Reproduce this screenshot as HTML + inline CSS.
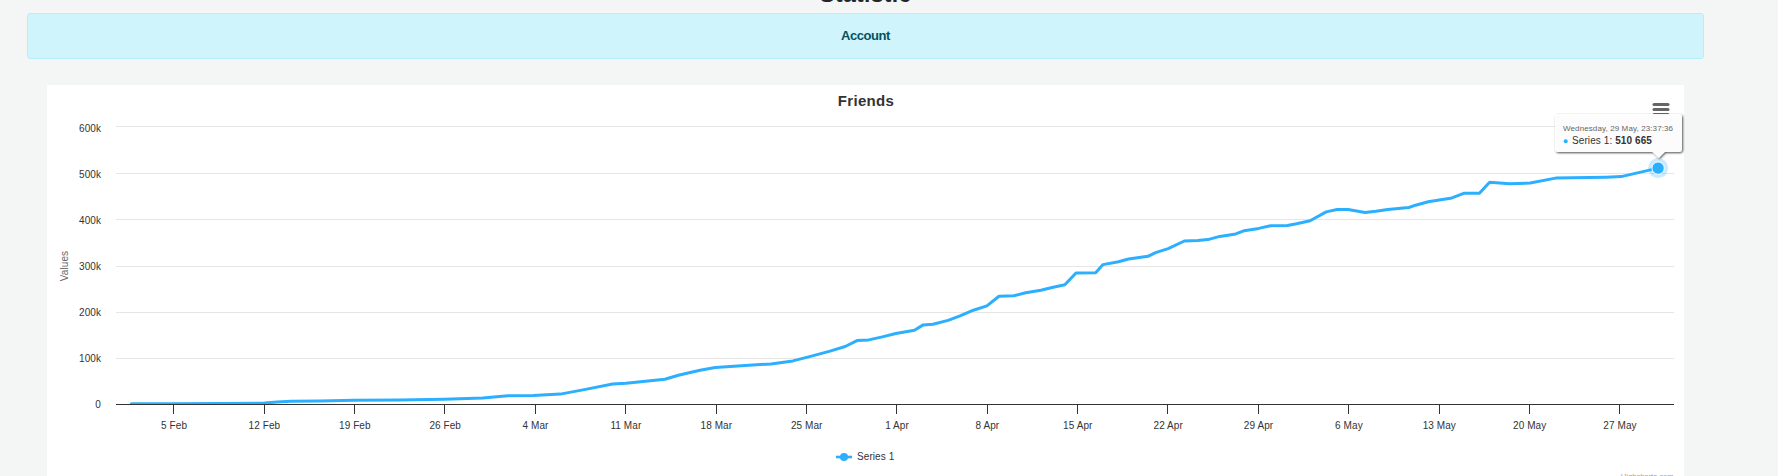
<!DOCTYPE html>
<html><head><meta charset="utf-8"><title>Statistic</title>
<style>
html,body{margin:0;padding:0;}
body{width:1778px;height:476px;overflow:hidden;background:#f4f6f6;font-family:"Liberation Sans",sans-serif;position:relative;}
h1{position:absolute;left:0;width:1731px;top:-20px;margin:0;text-align:center;font-size:20px;font-weight:bold;color:#212529;line-height:23px;}
.alert{position:absolute;left:27px;top:13px;width:1675px;height:44px;box-sizing:content-box;border:1px solid #b6effb;background:#cff4fc;border-radius:3px;color:#055160;text-align:center;font-weight:bold;font-size:13px;line-height:44px;letter-spacing:-0.45px;}
.panel{position:absolute;left:47px;top:85px;width:1637px;height:400px;background:#fff;}
svg{position:absolute;left:0;top:0;}
.ax{font-size:10px;fill:#333;letter-spacing:0.08px;}
.title{font-size:15px;font-weight:bold;fill:#333;letter-spacing:0.3px;}
</style></head><body>
<div class="alert">Account</div>
<div class="panel"></div>
<svg width="1778" height="476" viewBox="0 0 1778 476" font-family="Liberation Sans, sans-serif">
<defs><clipPath id="cp"><rect x="116" y="100" width="1558" height="304"/></clipPath><filter id="sh" x="-10%" y="-20%" width="120%" height="150%"><feDropShadow dx="1" dy="1" stdDeviation="1.2" flood-color="#000" flood-opacity="0.72"/></filter></defs>
<path d="M116 126.5 H1674" stroke="#e6e6e6" stroke-width="1" fill="none"/>
<path d="M116 173.5 H1674" stroke="#e6e6e6" stroke-width="1" fill="none"/>
<path d="M116 219.5 H1674" stroke="#e6e6e6" stroke-width="1" fill="none"/>
<path d="M116 266.5 H1674" stroke="#e6e6e6" stroke-width="1" fill="none"/>
<path d="M116 312.5 H1674" stroke="#e6e6e6" stroke-width="1" fill="none"/>
<path d="M116 358.5 H1674" stroke="#e6e6e6" stroke-width="1" fill="none"/>
<path d="M116 404.5 H1674" stroke="#333" stroke-width="1" fill="none"/>
<path d="M173.5 404.5 V414" stroke="#333" stroke-width="1" fill="none"/>
<path d="M264.5 404.5 V414" stroke="#333" stroke-width="1" fill="none"/>
<path d="M354.5 404.5 V414" stroke="#333" stroke-width="1" fill="none"/>
<path d="M444.5 404.5 V414" stroke="#333" stroke-width="1" fill="none"/>
<path d="M535.5 404.5 V414" stroke="#333" stroke-width="1" fill="none"/>
<path d="M625.5 404.5 V414" stroke="#333" stroke-width="1" fill="none"/>
<path d="M716.5 404.5 V414" stroke="#333" stroke-width="1" fill="none"/>
<path d="M806.5 404.5 V414" stroke="#333" stroke-width="1" fill="none"/>
<path d="M896.5 404.5 V414" stroke="#333" stroke-width="1" fill="none"/>
<path d="M987.5 404.5 V414" stroke="#333" stroke-width="1" fill="none"/>
<path d="M1077.5 404.5 V414" stroke="#333" stroke-width="1" fill="none"/>
<path d="M1167.5 404.5 V414" stroke="#333" stroke-width="1" fill="none"/>
<path d="M1258.5 404.5 V414" stroke="#333" stroke-width="1" fill="none"/>
<path d="M1348.5 404.5 V414" stroke="#333" stroke-width="1" fill="none"/>
<path d="M1439.5 404.5 V414" stroke="#333" stroke-width="1" fill="none"/>
<path d="M1529.5 404.5 V414" stroke="#333" stroke-width="1" fill="none"/>
<path d="M1619.5 404.5 V414" stroke="#333" stroke-width="1" fill="none"/>
<text x="101" y="132" text-anchor="end" class="ax">600k</text>
<text x="101" y="178" text-anchor="end" class="ax">500k</text>
<text x="101" y="224" text-anchor="end" class="ax">400k</text>
<text x="101" y="270" text-anchor="end" class="ax">300k</text>
<text x="101" y="316" text-anchor="end" class="ax">200k</text>
<text x="101" y="362" text-anchor="end" class="ax">100k</text>
<text x="101" y="408" text-anchor="end" class="ax">0</text>
<text x="174.1" y="429.3" text-anchor="middle" class="ax">5 Feb</text>
<text x="264.4" y="429.3" text-anchor="middle" class="ax">12 Feb</text>
<text x="354.8" y="429.3" text-anchor="middle" class="ax">19 Feb</text>
<text x="445.2" y="429.3" text-anchor="middle" class="ax">26 Feb</text>
<text x="535.5" y="429.3" text-anchor="middle" class="ax">4 Mar</text>
<text x="625.9" y="429.3" text-anchor="middle" class="ax">11 Mar</text>
<text x="716.3" y="429.3" text-anchor="middle" class="ax">18 Mar</text>
<text x="806.7" y="429.3" text-anchor="middle" class="ax">25 Mar</text>
<text x="897.0" y="429.3" text-anchor="middle" class="ax">1 Apr</text>
<text x="987.4" y="429.3" text-anchor="middle" class="ax">8 Apr</text>
<text x="1077.8" y="429.3" text-anchor="middle" class="ax">15 Apr</text>
<text x="1168.2" y="429.3" text-anchor="middle" class="ax">22 Apr</text>
<text x="1258.5" y="429.3" text-anchor="middle" class="ax">29 Apr</text>
<text x="1348.9" y="429.3" text-anchor="middle" class="ax">6 May</text>
<text x="1439.3" y="429.3" text-anchor="middle" class="ax">13 May</text>
<text x="1529.7" y="429.3" text-anchor="middle" class="ax">20 May</text>
<text x="1620.0" y="429.3" text-anchor="middle" class="ax">27 May</text>
<text transform="translate(68.4 266) rotate(-90)" text-anchor="middle" class="ax" style="fill:#666">Values</text>
<path d="M131.3 403.8 L173 403.7 L220 403.5 L264.5 403.1 L277 401.9 L291 401.3 L320 400.9 L354 400.3 L400 400.1 L444 399.2 L482.7 398.1 L508 395.8 L533.3 395.5 L560.3 394.1 L585.6 389.4 L612.6 384 L626 383.3 L664.9 379.3 L678.4 375.2 L700 370.2 L715.3 367.6 L771 363.9 L792.9 360.9 L811.5 356.1 L830 351.1 L845.2 346.5 L857 340.6 L868.8 339.9 L882.3 336.9 L895.8 333.5 L914.4 330.2 L922.8 325.1 L933 324.2 L948.1 320.4 L960 315.8 L973.4 310.2 L986.9 305.9 L999 296.3 L1013.9 295.8 L1025.7 292.8 L1040.9 290.2 L1051 287.7 L1064.8 284.8 L1076 273 L1095.7 272.7 L1103 264.6 L1118.5 261.7 L1128.6 259 L1148 256.3 L1155.6 252.6 L1168.2 248.6 L1184.3 241 L1197.8 240.6 L1207.9 239.6 L1219.7 236.4 L1235.8 233.9 L1244.3 230.7 L1258.7 228.4 L1270.5 225.7 L1287.4 225.4 L1296.6 223.7 L1310.1 220.7 L1326.2 211.9 L1337.1 209.5 L1348.1 209.5 L1365 212.6 L1375.9 211.2 L1387.8 209.4 L1408.8 207.5 L1415.6 205.2 L1428.2 201.8 L1451.9 197.9 L1463.7 193.3 L1479.4 193.3 L1489.6 182.2 L1509.4 183.8 L1530.2 183 L1555.6 178.1 L1606.1 177.2 L1621.2 176.6 L1658.1 168.1" stroke="#2caffe" stroke-width="3" fill="none" stroke-linejoin="round" stroke-linecap="round" clip-path="url(#cp)"/>
<circle cx="1658.1" cy="168.1" r="10" fill="#2caffe" fill-opacity="0.25"/>
<circle cx="1658.1" cy="168.1" r="6.2" fill="#2caffe" stroke="#fff" stroke-width="1"/>
<path d="M836 457 H852" stroke="#2caffe" stroke-width="2.6"/>
<circle cx="844" cy="457" r="4" fill="#2caffe"/>
<text x="857" y="460.3" class="ax">Series 1</text>
<text x="866" y="105.7" text-anchor="middle" class="title">Friends</text>
<path d="M1654 104.5 H1668" stroke="#666" stroke-width="3" stroke-linecap="round"/>
<path d="M1654 109.5 H1668" stroke="#666" stroke-width="3" stroke-linecap="round"/>
<path d="M1654 114.5 H1668" stroke="#666" stroke-width="3" stroke-linecap="round"/>
<text x="865.5" y="1.8" text-anchor="middle" style="font-size:23px;font-weight:bold;fill:#212529;letter-spacing:0.3px">Statistic</text>
<text x="1673.5" y="478.9" text-anchor="end" style="font-size:7.6px;fill:#999">Highcharts.com</text>
<g filter="url(#sh)"><path d="M1558 114 H1679 a3 3 0 0 1 3 3 V149 a3 3 0 0 1 -3 3 H1664.8 L1658.7 158 L1652.6 152 H1558 a3 3 0 0 1 -3 -3 V117 a3 3 0 0 1 3 -3 Z" fill="#fff" fill-opacity="0.96"/></g>
<text x="1563" y="131" style="font-size:8px;letter-spacing:0.11px;fill:#666">Wednesday, 29 May, 23:37:36</text>
<circle cx="1565.7" cy="141.3" r="2" fill="#2caffe"/>
<text x="1572" y="144.3" style="font-size:10px;letter-spacing:0.09px;fill:#333">Series 1: <tspan font-weight="bold">510 665</tspan></text>
</svg>
</body></html>
